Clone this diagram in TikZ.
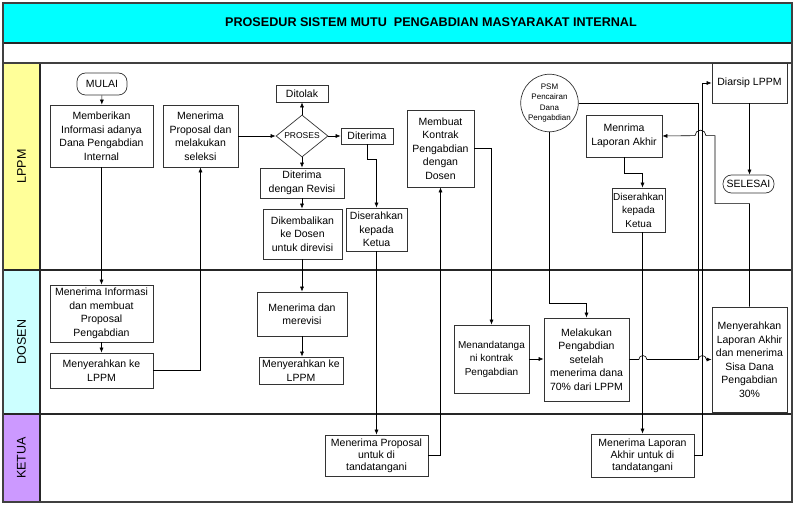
\documentclass[tikz,border=0pt]{standalone}
\usepackage{fontspec}
\setmainfont{Liberation Sans}
\usetikzlibrary{shapes,arrows.meta,positioning}
\definecolor{titlecyan}{HTML}{00FFFF}
\definecolor{lppmyellow}{HTML}{FFFF99}
\definecolor{dosencyan}{HTML}{CCFFFF}
\definecolor{ketuapurple}{HTML}{CC99FF}
\newcommand{\boxfont}{\fontsize{10.5}{13.5}\selectfont}
\tikzstyle{proc} = [draw=black!80,fill=white,line width=0.7pt,align=center,inner sep=1pt,font=\boxfont]
\tikzstyle{ketuabox} = [proc,font=\fontsize{10.5}{12}\selectfont]
\tikzstyle{term} = [proc,rounded corners=8.5pt]
\tikzstyle{dec} = [diamond,draw=black!80,fill=white,line width=0.7pt,aspect=1.24,inner sep=0pt,minimum width=52pt,minimum height=42pt,font=\fontsize{8.5}{9}\selectfont]
\tikzstyle{conn} = [draw,->,line width=0.6pt]
\tikzstyle{wire} = [draw,line width=0.6pt]
\tikzstyle{lane} = [line width=1.2pt,draw=black!85]
\tikzstyle{lanelabel} = [rotate=90,font=\fontsize{12.5}{14}\selectfont]
\tikzset{>={Latex[length=5pt,width=4pt]}}
\begin{document}
\begin{tikzpicture}[x=1pt,y=-1pt]
  \useasboundingbox (0,0) rectangle (795,505);
  % frame and lanes
  \fill[titlecyan] (3,3) rectangle (792,43);
  \fill[lppmyellow] (3,63) rectangle (40,270);
  \fill[dosencyan] (3,270) rectangle (40,414);
  \fill[ketuapurple] (3,414) rectangle (40,502);
  \draw[lane] (3,43) -- (792,43);
  \draw[lane] (3,270) -- (792,270);
  \draw[lane] (3,414) -- (792,414);
  \draw[lane] (40,63) -- (40,502);
  \draw[line width=1.6pt,draw=black!75] (3,63) -- (792,63);
  \draw[line width=1.6pt,draw=black!75] (3,3) rectangle (792,502);
  \node[font=\bfseries\fontsize{12.6}{14}\selectfont] (title) at (431,22) {PROSEDUR SISTEM MUTU~ PENGABDIAN MASYARAKAT INTERNAL};
  \node[lanelabel] (lppm) at (21.5,166.5) {LPPM};
  \node[lanelabel] (dosen) at (21.5,342) {DOSEN};
  \node[lanelabel] (ketua) at (21.5,458) {KETUA};

  % LPPM
  \node[term, minimum width=50pt, minimum height=22pt] (mulai) at (102,84) {MULAI};
  \node[proc, minimum width=103pt, minimum height=62pt] (memberi) at (101.5,136) {Memberikan\\Informasi adanya\\Dana Pengabdian\\Internal};
  \node[proc, minimum width=75pt, minimum height=62pt] (terimaprop) at (200.5,136) {Menerima\\Proposal dan\\melakukan\\seleksi};
  \node[proc, minimum width=52pt, minimum height=17pt] (ditolak) at (302,93.5) {Ditolak};
  \node[dec] (proses) at (302,136) {PROSES};
  \node[proc, minimum width=52pt, minimum height=16pt] (diterima) at (367,136) {Diterima};
  \node[proc, minimum width=84pt, minimum height=30pt] (revisi) at (302,183) {Diterima\\dengan Revisi};
  \node[proc, minimum width=79pt, minimum height=50pt] (kembali) at (302.5,234) {Dikembalikan\\ke Dosen\\untuk direvisi};
  \node[proc, minimum width=61pt, minimum height=43pt] (serahketua) at (376.5,229.5) {Diserahkan\\kepada\\Ketua};
  \node[proc, minimum width=67pt, minimum height=77pt] (kontrak) at (440.5,148.5) {Membuat\\Kontrak\\Pengabdian\\dengan\\Dosen};
  \node[circle, draw=black!80, fill=white, line width=0.7pt, minimum size=57pt, inner sep=0pt, align=center, font=\fontsize{8}{10.5}\selectfont] (psm) at (549.5,103) {PSM\\Pencairan\\Dana\\Pengabdian};
  \node[proc, minimum width=76pt, minimum height=42pt] (lapakhir) at (624,136) {Menrima\\Laporan Akhir};
  \node[proc, minimum width=53pt, minimum height=44pt, inner sep=0.5pt, font=\fontsize{10}{13.5}\selectfont] (serahketuab) at (638.5,210) {Diserahkan\\kepada\\Ketua};
  \node[proc, minimum width=75pt, minimum height=40pt] (diarsip) at (749.5,83) {Diarsip LPPM};
  \node[term, minimum width=51pt, minimum height=18pt] (selesai) at (748.5,184) {SELESAI};

  % DOSEN
  \node[proc, minimum width=103pt, minimum height=57pt] (terimainfo) at (101.5,313.5) {Menerima Informasi\\dan membuat\\Proposal\\Pengabdian};
  \node[proc, minimum width=103pt, minimum height=35pt] (serahlppm) at (101.5,370.5) {Menyerahkan ke\\LPPM};
  \node[proc, minimum width=90pt, minimum height=44pt] (merevisi) at (302,314) {Menerima dan\\merevisi};
  \node[proc, minimum width=84pt, minimum height=27pt] (serahlppmb) at (301,370.5) {Menyerahkan ke\\LPPM};
  \node[proc, minimum width=75pt, minimum height=68pt, inner sep=0.5pt, font=\fontsize{10}{13.5}\selectfont] (tandatangan) at (491.5,359) {Menandatanga\\ni kontrak\\Pengabdian};
  \node[proc, minimum width=85pt, minimum height=83pt] (melakukan) at (586.5,359.5) {Melakukan\\Pengabdian\\setelah\\menerima dana\\70\% dari LPPM};
  \node[proc, minimum width=75pt, minimum height=105pt] (serahlap) at (749.5,359.5) {Menyerahkan\\Laporan Akhir\\dan menerima\\Sisa Dana\\Pengabdian\\30\%};

  % KETUA
  \node[ketuabox, minimum width=103pt, minimum height=41pt] (ketuaprop) at (376.5,455.5) {Menerima Proposal\\untuk di\\tandatangani};
  \node[ketuabox, minimum width=103pt, minimum height=43pt] (ketualap) at (642.5,455.5) {Menerima Laporan\\Akhir untuk di\\tandatangani};

  \coordinate (psmjoin) at (698,359.5);

  % connectors
  \draw[conn] (mulai) -- (memberi);
  \draw[conn] (memberi) -- (terimainfo);
  \draw[conn] (terimainfo) -- (serahlppm);
  \draw[conn] (serahlppm.east) -| (terimaprop.south);
  \draw[conn] (terimaprop) -- (proses);
  \draw[conn] (proses) -- (ditolak);
  \draw[conn] (proses) -- (diterima);
  \draw[conn] (proses) -- (revisi);
  \draw[conn] (revisi.south) -- (revisi.south |- kembali.north);
  \draw[conn] (kembali.south -| merevisi.north) -- (merevisi.north);
  \draw[conn] (merevisi) -- (serahlppmb.north -| merevisi.south);
  \draw[conn] (diterima.south) -- ++(0,15) -| (serahketua.north);
  \draw[conn] (serahketua) -- (ketuaprop);
  \draw[conn] (ketuaprop.east) -| (kontrak.south);
  \draw[conn] (kontrak.east) -| (tandatangan.north);
  \draw[conn] (tandatangan.east) -- (tandatangan.east -| melakukan.west);
  \draw[conn] (psm.south) -- ++(0,171.5) -| (melakukan.north);
  \draw[wire] (psm.east) -| (psmjoin);
  \draw[conn] (melakukan.east) -- ++(9.5,0) arc[start angle=180,end angle=0,radius=4pt] -- ++(51.5,0) arc[start angle=180,end angle=0,radius=4pt] -- (serahlap.west);
  \draw[conn] (serahlap.north) -- ++(0,-103) -- ++(-34.5,0) -- ++(0,-68) -- ++(-9,0) arc[start angle=0,end angle=180,radius=5.5pt] -- (lapakhir.east);
  \draw[conn] (lapakhir.south) -- ++(0,16) -| (ketualap.north |- serahketuab.north);
  \draw[conn] (serahketuab.south -| ketualap.north) -- (ketualap.north);
  \draw[conn] (ketualap.east) -- ++(8,0) |- (diarsip.west);
  \draw[conn] (diarsip.south) -- (diarsip.south |- selesai.north);
\end{tikzpicture}
\end{document}
